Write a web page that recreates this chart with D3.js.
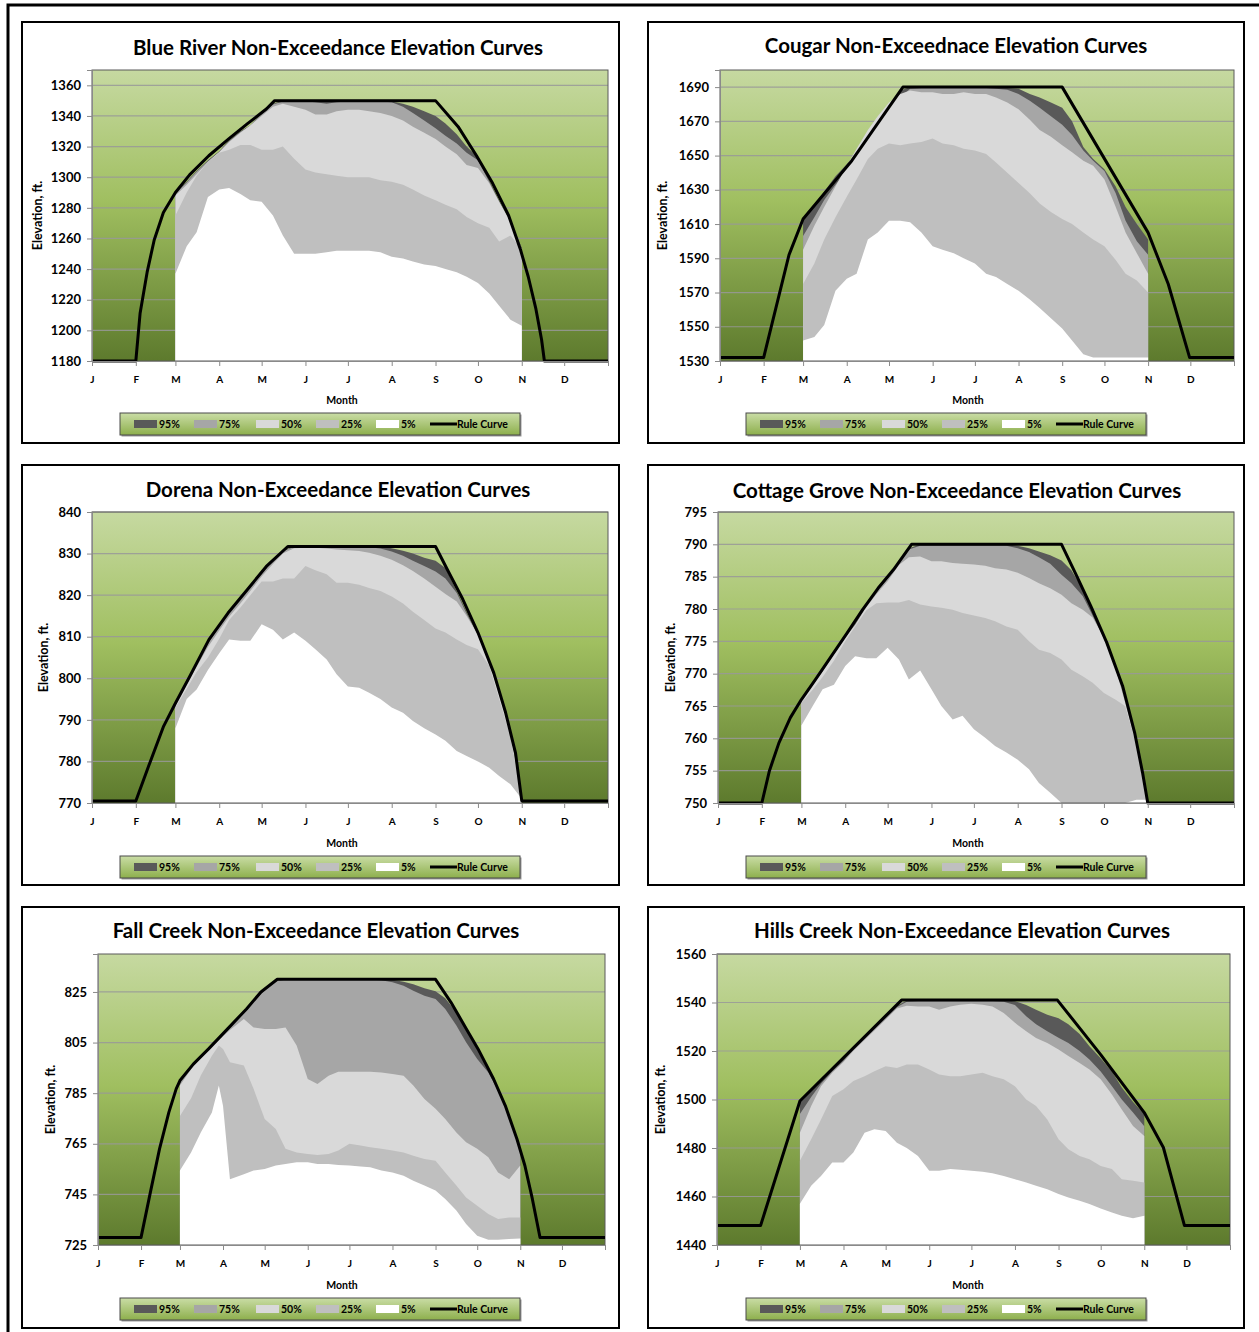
<!DOCTYPE html>
<html>
<head>
<meta charset="utf-8">
<script src="https://cdn.jsdelivr.net/npm/d3@7"></script>
<style>
  body { margin: 0; background: #fff; }
  svg { display: block; }
  text { font-family: Lato, "Open Sans", sans-serif; font-weight: bold; fill: #000; }
</style>
</head>
<body>
<svg id="chart" width="1259" height="1332"></svg>
<script>
// ---- data ----
const monthLabels = ["J", "F", "M", "A", "M", "J", "J", "A", "S", "O", "N", "D"];
const monthStarts = [0, 31, 59, 90, 120, 151, 181, 212, 243, 273, 304, 334];
const seriesNames = ["95%", "75%", "50%", "25%", "5%"];

// day of year for the percentile curves (Mar 1 .. Nov 1, quarter months)
const gridDays = [59, 67, 74, 82, 90, 97, 105, 112, 120, 128, 135, 143, 151, 158, 166, 173,
  181, 189, 196, 204, 212, 220, 227, 235, 243, 250, 258, 265, 273, 281, 288, 296, 304];
const fallCreekDays = [59, 67, 74, 82, 87, 90, 95, 105, 112, 120, 128, 135, 143, 151, 158, 166, 173,
  181, 189, 196, 204, 212, 220, 227, 235, 243, 250, 258, 265, 273, 281, 288, 296, 304];

// Blue River
const blueRiverP95 = [1290, 1297, 1304, 1311, 1317, 1324, 1330, 1334, 1342, 1348, 1350, 1350, 1350, 1350, 1350, 1350, 1350, 1350, 1350, 1350, 1349.5, 1348, 1346, 1343, 1340, 1335, 1328, 1320, 1313, 1298, 1285, 1271, 1254];
const blueRiverP75 = [1289.5, 1296.5, 1303.5, 1310.5, 1316.5, 1323.5, 1329.5, 1333.5, 1341.5, 1347.5, 1349.5, 1349.5, 1349.5, 1349, 1348, 1349, 1349.5, 1349.5, 1349.5, 1349.5, 1349, 1346, 1342, 1337, 1332, 1327, 1322, 1316, 1311, 1297, 1284, 1270, 1253];
const blueRiverP50 = [1288, 1295, 1302, 1310, 1316.5, 1323, 1329, 1334, 1340, 1346, 1348, 1346, 1344, 1341, 1341, 1343, 1344, 1344, 1343, 1342, 1340, 1337, 1333, 1329, 1325, 1320, 1315, 1308, 1306, 1296, 1284, 1271, 1253];
const blueRiverP25 = [1275, 1290, 1301, 1310, 1316, 1318, 1321, 1321, 1318, 1318, 1320, 1312, 1305, 1303, 1302, 1301, 1300, 1300, 1300, 1298, 1297, 1295, 1292, 1288, 1285, 1282, 1279, 1274, 1270, 1267, 1258, 1262, 1253];
const blueRiverP5 = [1237, 1255, 1264, 1287, 1292, 1293, 1289, 1285, 1284, 1275, 1262, 1250, 1250, 1250, 1251, 1252, 1252, 1252, 1252, 1251, 1248, 1247, 1245, 1243, 1242, 1240, 1238, 1235, 1231, 1224, 1216, 1207, 1203];
const blueRiverRuleDays = [0, 31, 34, 39, 44, 50.5, 59, 69, 82.6, 96.7, 110, 123.3, 129.2, 243, 259, 272, 283.4, 294.7, 303, 308.6, 314, 318, 320, 365];
const blueRiverRuleVals = [1180, 1180, 1211, 1238, 1259, 1277, 1290, 1301.5, 1314, 1325, 1335, 1344.5, 1350, 1350, 1333, 1314, 1296, 1275, 1253, 1235, 1214, 1194, 1180, 1180];

// Cougar
const cougarP95 = [1613, 1621, 1629, 1638, 1645, 1652, 1661, 1670, 1679, 1688, 1690, 1690, 1690, 1690, 1690, 1690, 1690, 1690, 1690, 1689.5, 1689, 1686, 1684, 1681, 1678, 1670, 1655, 1648, 1642, 1632, 1620, 1610, 1601];
const cougarP75 = [1603, 1614, 1624, 1633, 1641, 1649, 1657, 1665, 1674, 1684, 1689, 1689.5, 1689.5, 1689.5, 1689.5, 1689.5, 1689.5, 1689.5, 1689, 1688.5, 1686, 1682, 1678, 1673, 1668, 1662, 1653, 1647, 1641, 1628, 1612, 1600, 1592];
const cougarP50 = [1595, 1609, 1620, 1632, 1644, 1654, 1665, 1673, 1681, 1686, 1688, 1687, 1687, 1686, 1686, 1687, 1686, 1686, 1684, 1681, 1677, 1671, 1665, 1661, 1656, 1652, 1647, 1644, 1636, 1620, 1605, 1593, 1581];
const cougarP25 = [1575, 1587, 1601, 1614, 1626, 1636, 1648, 1654, 1657, 1656, 1657, 1658, 1660, 1657, 1656, 1654, 1653, 1651, 1646, 1640, 1634, 1628, 1622, 1617, 1613, 1610, 1605, 1601, 1597, 1589, 1581, 1577, 1570];
const cougarP5 = [1542, 1544, 1551, 1571, 1578, 1581, 1601, 1605, 1612, 1612, 1611, 1605, 1597, 1595, 1593, 1590, 1587, 1581, 1579, 1575, 1571, 1566, 1561, 1555, 1549, 1542, 1534, 1532, 1532, 1532, 1532, 1532, 1532];
const cougarRuleDays = [0, 31, 49, 59, 93.6, 129.9, 243, 304, 318.3, 333.5, 365];
const cougarRuleVals = [1532, 1532, 1592, 1613, 1647, 1690, 1690, 1605, 1575, 1532, 1532];

// Dorena
const dorenaP95 = [794, 799.2, 803.6, 808.5, 812.8, 816, 819.3, 822.2, 825.5, 828.3, 830.8, 831.7, 831.7, 831.7, 831.7, 831.7, 831.7, 831.7, 831.7, 831.7, 831.3, 830.7, 830, 829, 828.3, 826.5, 821, 816, 810.5, 803.5, 796.5, 787, 771];
const dorenaP75 = [793.8, 799, 803.4, 808.3, 812.6, 815.8, 819.1, 822, 825.3, 828.1, 830.6, 831.6, 831.6, 831.6, 831.6, 831.6, 831.6, 831.6, 831.5, 831.2, 830.5, 829.5, 828.3, 827, 825.7, 824, 820.5, 815.5, 810.5, 803.5, 796.5, 787, 771];
const dorenaP50 = [793.5, 798.5, 802.8, 807.5, 811.5, 814.8, 818, 821, 824.5, 827.5, 830, 831.3, 831.4, 831.4, 831.2, 831, 830.8, 830.6, 830.2, 829.5, 828.5, 827.2, 825.8, 824, 822, 820.3, 818.5, 815, 810.5, 803.5, 796.5, 787, 771];
const dorenaP25 = [793, 797.5, 801.5, 805, 809.5, 814, 817, 820, 823.3, 823.3, 824, 824, 827, 826, 825, 823, 823, 822.5, 821.7, 821, 819.7, 818, 816, 814, 812, 811, 809.3, 808, 807, 803, 795, 786, 771];
const dorenaP5 = [788, 795, 797.3, 802, 806, 809.3, 809, 809, 813, 811.7, 809.3, 811, 809, 807, 804.5, 801, 798, 797.7, 796.5, 795, 793, 791.7, 789.7, 788, 786.5, 785, 782.5, 781.3, 780, 778.5, 776.5, 774.5, 771];
const dorenaRuleDays = [0, 31, 40.2, 50.7, 59, 69.2, 82.7, 96.2, 109.8, 123.3, 138.5, 243, 251.6, 262.3, 273, 284.2, 292.6, 299.6, 304, 365];
const dorenaRuleVals = [770.5, 770.5, 779, 788.5, 794, 800.5, 809.3, 815.7, 821.3, 826.9, 831.7, 831.7, 826, 819, 811, 801.3, 791.7, 782, 770.5, 770.5];

// Cottage Grove
const cottageP95 = [766, 768.5, 770.6, 773.3, 775.9, 777.8, 780.7, 782.9, 784.9, 787.2, 789.4, 790, 790, 790, 790, 790, 790, 790, 790, 790, 789.8, 789.4, 788.9, 788.3, 787.5, 786, 783, 779.5, 775.5, 771, 766.3, 759.5, 750];
const cottageP75 = [765.8, 768.3, 770.4, 773.1, 775.7, 777.6, 780.5, 782.7, 784.7, 787, 789.2, 789.8, 789.8, 789.8, 789.8, 789.8, 789.8, 789.8, 789.8, 789.8, 789.4, 788.8, 788, 787, 785.3, 784, 782, 779, 775.5, 771, 766.3, 759.5, 750];
const cottageP50 = [765.8, 768.2, 770.3, 773, 775.6, 777.5, 780.3, 782.3, 784.3, 786.8, 788, 788.1, 787.4, 787.4, 787.1, 787, 786.9, 786.7, 786.3, 786.1, 785.6, 784.8, 784, 783.2, 782.2, 780.9, 779.9, 778.7, 775.5, 771, 765.5, 759, 750];
const cottageP25 = [765.5, 767.5, 769.5, 772, 775, 777.3, 779.8, 780.9, 781, 781, 781.4, 780.7, 780.4, 780.2, 779.9, 779.4, 779, 778.6, 778.1, 777.3, 776.8, 775, 773.7, 773.2, 772.2, 770.6, 769.6, 768.6, 767, 766, 765, 759, 750];
const cottageP5 = [762, 765, 767.6, 768.3, 771.2, 772.7, 772.4, 772.4, 774, 772.2, 769.1, 770.5, 767.6, 765, 762.9, 763.5, 761.4, 760.1, 758.8, 757.8, 756.7, 755.2, 753.1, 751.6, 750, 750, 750, 750, 750, 750, 750, 750.5, 750.5];
const cottageRuleDays = [0, 31, 36.4, 43.1, 51.2, 59, 69, 80.2, 91.4, 102.3, 113.2, 124.2, 136.9, 243, 252.7, 263.8, 275, 286.2, 294.7, 300.3, 304, 365];
const cottageRuleVals = [750, 750, 755, 759.3, 763.2, 766, 769.1, 772.7, 776.3, 779.9, 783.2, 786.1, 790, 790, 785.6, 780.4, 774.8, 768.1, 760.9, 754.7, 750, 750];

// Fall Creek
const fallCreekP95 = [790, 795.3, 799.3, 803.7, 806.6, 808.3, 811, 817, 821.4, 826, 829.5, 830, 830, 830, 830, 830, 830, 830, 830, 830, 830, 829.8, 829, 828, 826.5, 825.3, 822.5, 817, 810, 802.5, 794.8, 786, 775.5, 763];
const fallCreekP75 = [789.7, 795, 799, 803.4, 806.3, 808, 810.7, 816.7, 821.1, 825.7, 829.2, 829.8, 829.8, 829.8, 829.8, 829.8, 829.8, 829.8, 829.8, 829.8, 829.6, 828.8, 827.5, 825.5, 823.5, 822.2, 818.3, 811.7, 805.1, 798.5, 793.2, 786, 775.5, 762.5];
const fallCreekP50 = [788, 794.5, 799, 803.5, 806, 807.5, 810, 814.3, 811, 810.4, 810.4, 811, 803.8, 790.6, 788.6, 791.9, 793.5, 793.5, 793.5, 793.5, 793.2, 792.6, 791.9, 788, 782.7, 778.8, 774.8, 769.5, 765.6, 763, 759.7, 753.7, 751, 756.4];
const fallCreekP25 = [776, 783, 792, 799.8, 803.8, 802.5, 797.2, 795.9, 786.7, 774.8, 770.8, 763, 761.6, 761, 760.6, 761, 762.3, 765, 764.3, 763.6, 763, 762.3, 761.6, 760.3, 759, 758.3, 753.7, 748.5, 743.8, 740.5, 737.3, 735.3, 735.9, 735.9];
const fallCreekP5 = [754.4, 761.6, 769.5, 777.4, 788, 780, 751, 753, 754.4, 755, 756.4, 757, 757.7, 757.7, 757, 757, 756.6, 756.4, 756, 755.7, 754.4, 753.7, 752.4, 750.4, 748.5, 746.5, 743.2, 738.6, 733.3, 728.7, 727.1, 727.1, 727.4, 727.6];
const fallCreekRuleDays = [0, 31, 37.7, 44.3, 51, 56.3, 59, 68.6, 79.6, 93.3, 106.9, 117.3, 129.1, 243, 254.1, 265.2, 273.6, 284.8, 293.2, 301.6, 307.3, 312.7, 318.2, 365];
const fallCreekRuleVals = [728, 728, 745.8, 763, 777.4, 786.7, 790, 796.5, 802.5, 810.4, 818.3, 825, 830, 830, 820.9, 810.4, 802.5, 790.6, 780.1, 766.9, 756.4, 743.2, 728, 728];

// Hills Creek
const hillsCreekP95 = [1499, 1503.6, 1507.7, 1512.3, 1516.9, 1520.9, 1525.5, 1529.6, 1534.2, 1538.8, 1540.7, 1540.8, 1540.8, 1540.8, 1540.8, 1540.8, 1540.8, 1540.8, 1540.8, 1540.8, 1540.5, 1539, 1537, 1535, 1533.5, 1531, 1527, 1522, 1517, 1511.5, 1505, 1499, 1494];
const hillsCreekP75 = [1494, 1501, 1506.5, 1511.5, 1516, 1520.5, 1525, 1529, 1533.5, 1538, 1540.3, 1540.5, 1540.5, 1540.5, 1540.5, 1540.5, 1540.5, 1540.5, 1540.5, 1540.3, 1539, 1534.3, 1531, 1528.1, 1525.5, 1523.3, 1520, 1516.5, 1511.5, 1505.5, 1500, 1494.6, 1489];
const hillsCreekP50 = [1486.3, 1497.3, 1505.5, 1511, 1515.5, 1520, 1524.5, 1528.5, 1533, 1537.5, 1538.7, 1538.4, 1538.4, 1537, 1538.4, 1539.1, 1539.5, 1539.1, 1538.4, 1535.7, 1531.6, 1528.1, 1525.4, 1523.3, 1520.6, 1517.9, 1515.1, 1512.4, 1508.3, 1502.1, 1495.9, 1489.1, 1485];
const hillsCreekP25 = [1474.7, 1483.6, 1491.8, 1501.4, 1504.2, 1507.6, 1509.6, 1511.7, 1513.7, 1513, 1514.4, 1514.4, 1512.4, 1510.3, 1509.6, 1509.6, 1510.3, 1511, 1509.6, 1508.3, 1505.5, 1500, 1497.3, 1491.8, 1483.6, 1479.5, 1476.7, 1475.4, 1472.6, 1471.3, 1467.1, 1466.5, 1465.8];
const hillsCreekP5 = [1457, 1464.4, 1468.5, 1474, 1474, 1478.1, 1486.3, 1487.7, 1487, 1482.2, 1480, 1476.7, 1470.6, 1470.6, 1471.3, 1471, 1470.6, 1470.2, 1469.6, 1468.5, 1467.1, 1465.8, 1464.4, 1463, 1461, 1459.6, 1458.2, 1456.9, 1455.1, 1453.4, 1452.1, 1451, 1452.1];
const hillsCreekRuleDays = [0, 31, 59, 131.3, 242.2, 273, 304, 317.6, 332.6, 365];
const hillsCreekRuleVals = [1448, 1448, 1499.4, 1541, 1541, 1518.5, 1494.6, 1480.2, 1448, 1448];

// ---- layout ----
const bandColors = ["#595959", "#a6a6a6", "#d9d9d9", "#bfbfbf", "#ffffff"];

const panels = [
  { title: "Blue River Non-Exceedance Elevation Curves", days: gridDays,
    series: [blueRiverP95, blueRiverP75, blueRiverP50, blueRiverP25, blueRiverP5],
    ruleDays: blueRiverRuleDays, ruleVals: blueRiverRuleVals,
    domain: [1180, 1370], tickStart: 1180, tickStep: 20,
    box: [22, 22, 597, 421], plot: [92, 70, 516, 291], titleX: 338, titleY: 48, yTitleX: 38 },
  { title: "Cougar Non-Exceednace Elevation Curves", days: gridDays,
    series: [cougarP95, cougarP75, cougarP50, cougarP25, cougarP5],
    ruleDays: cougarRuleDays, ruleVals: cougarRuleVals,
    domain: [1530, 1700], tickStart: 1530, tickStep: 20,
    box: [648, 22, 596, 421], plot: [720, 70, 514, 291], titleX: 956, titleY: 46, yTitleX: 663 },
  { title: "Dorena Non-Exceedance Elevation Curves", days: gridDays,
    series: [dorenaP95, dorenaP75, dorenaP50, dorenaP25, dorenaP5],
    ruleDays: dorenaRuleDays, ruleVals: dorenaRuleVals,
    domain: [770, 840], tickStart: 770, tickStep: 10,
    box: [22, 465, 597, 420], plot: [92, 512, 516, 291], titleX: 338, titleY: 490, yTitleX: 44 },
  { title: "Cottage Grove Non-Exceedance Elevation Curves", days: gridDays,
    series: [cottageP95, cottageP75, cottageP50, cottageP25, cottageP5],
    ruleDays: cottageRuleDays, ruleVals: cottageRuleVals,
    domain: [750, 795], tickStart: 750, tickStep: 5,
    box: [648, 465, 596, 420], plot: [718, 512, 516, 291], titleX: 957, titleY: 491, yTitleX: 671 },
  { title: "Fall Creek Non-Exceedance Elevation Curves", days: fallCreekDays,
    series: [fallCreekP95, fallCreekP75, fallCreekP50, fallCreekP25, fallCreekP5],
    ruleDays: fallCreekRuleDays, ruleVals: fallCreekRuleVals,
    domain: [725, 840], tickStart: 725, tickStep: 20,
    box: [22, 907, 597, 421], plot: [98, 954, 507, 291], titleX: 316, titleY: 931, yTitleX: 51 },
  { title: "Hills Creek Non-Exceedance Elevation Curves", days: gridDays,
    series: [hillsCreekP95, hillsCreekP75, hillsCreekP50, hillsCreekP25, hillsCreekP5],
    ruleDays: hillsCreekRuleDays, ruleVals: hillsCreekRuleVals,
    domain: [1440, 1560], tickStart: 1440, tickStep: 20,
    box: [648, 907, 596, 421], plot: [717, 954, 513, 291], titleX: 962, titleY: 931, yTitleX: 661 }
];

const svg = d3.select("#chart");
const defs = svg.append("defs");

function vGradient(id, stops) {
  const grad = defs.append("linearGradient").attr("id", id)
    .attr("x1", 0).attr("y1", 0).attr("x2", 0).attr("y2", 1);
  stops.forEach(s => grad.append("stop").attr("offset", s[0]).attr("stop-color", s[1]));
}
vGradient("plotFill", [[0, "#c6d9a1"], [0.45, "#a0bf60"], [1, "#5d7a2d"]]);
vGradient("legendFill", [[0, "#cadda6"], [1, "#8daf4c"]]);

// outer frame (top and left only visible)
svg.append("path").attr("d", "M8,1332V5H1259")
  .attr("fill", "none").attr("stroke", "#000").attr("stroke-width", 3);

const axisColor = "#8a8a8a";

panels.forEach((p, k) => {
  const g = svg.append("g");
  const [bx, by, bw, bh] = p.box;
  const [px, py, pw, ph] = p.plot;

  g.append("rect").attr("x", bx).attr("y", by).attr("width", bw).attr("height", bh)
    .attr("fill", "#fff").attr("stroke", "#000").attr("stroke-width", 2);

  g.append("text").attr("x", p.titleX).attr("y", p.titleY).attr("dy", "0.35em")
    .attr("text-anchor", "middle").attr("font-size", 20.5).text(p.title);

  const x = d3.scaleLinear().domain([0, 365]).range([px, px + pw]);
  const y = d3.scaleLinear().domain(p.domain).range([py + ph, py]);
  const ticks = d3.range(p.tickStart, p.domain[1] + 0.001, p.tickStep);

  g.append("rect").attr("x", px).attr("y", py).attr("width", pw).attr("height", ph)
    .attr("fill", "url(#plotFill)");

  g.append("g").selectAll("line").data(ticks.filter(t => t > p.domain[0]))
    .join("line")
    .attr("x1", px).attr("x2", px + pw)
    .attr("y1", d => y(d)).attr("y2", d => y(d))
    .attr("stroke", "#999").attr("stroke-width", 1.2).attr("opacity", 0.85);

  const clipId = "clip" + k;
  defs.append("clipPath").attr("id", clipId).append("rect")
    .attr("x", px).attr("y", py).attr("width", pw).attr("height", ph);

  const bands = g.append("g").attr("clip-path", `url(#${clipId})`);
  p.series.forEach((vals, i) => {
    const area = d3.area()
      .x((d, j) => x(p.days[j]))
      .y0(y(p.domain[0]))
      .y1(d => y(d));
    bands.append("path").datum(vals).attr("d", area)
      .attr("fill", bandColors[i]).attr("stroke", "none");
  });

  g.append("rect").attr("x", px).attr("y", py).attr("width", pw).attr("height", ph)
    .attr("fill", "none").attr("stroke", "#5a5a5a").attr("stroke-width", 1);

  const rule = p.ruleDays.map((d, i) => [d, p.ruleVals[i]]);
  g.append("path").datum(rule)
    .attr("d", d3.line().x(d => x(d[0])).y(d => y(d[1])))
    .attr("fill", "none").attr("stroke", "#000").attr("stroke-width", 3)
    .attr("stroke-linejoin", "round");

  // axes
  const yAxis = d3.axisLeft(y).tickValues(ticks).tickSize(5).tickPadding(6).tickFormat(d3.format("d"));
  const ya = g.append("g").attr("transform", `translate(${px},0)`).call(yAxis);
  ya.select(".domain").attr("stroke", axisColor);
  ya.selectAll(".tick line").attr("stroke", axisColor);
  ya.selectAll(".tick text").attr("font-size", 13).attr("font-family", "Lato, sans-serif")
    .attr("font-weight", "bold").attr("fill", "#000");

  const xAxis = d3.axisBottom(x).tickValues(monthStarts.concat([365])).tickSize(5).tickPadding(10)
    .tickFormat((d, i) => monthLabels[i] || "");
  const xa = g.append("g").attr("transform", `translate(0,${py + ph})`).call(xAxis);
  xa.select(".domain").attr("stroke", axisColor);
  xa.selectAll(".tick line").attr("stroke", axisColor);
  xa.selectAll(".tick text").attr("font-size", 10).attr("font-family", "Lato, sans-serif")
    .attr("font-weight", "bold").attr("fill", "#000");

  g.append("text").attr("x", bx + 320).attr("y", by + 378).attr("dy", "0.35em")
    .attr("text-anchor", "middle").attr("font-size", 10.5).text("Month");

  g.append("text").attr("transform", `translate(${p.yTitleX},${py + ph / 2}) rotate(-90)`)
    .attr("dy", "0.35em").attr("text-anchor", "middle").attr("font-size", 12.5).text("Elevation, ft.");

  // legend
  const lx = bx + 98, ly = by + 391;
  const lg = g.append("g").attr("transform", `translate(${lx},${ly})`);
  lg.append("rect").attr("x", 1.5).attr("y", 1.5).attr("width", 400).attr("height", 22).attr("fill", "#9a9a9a");
  lg.append("rect").attr("width", 400).attr("height", 22)
    .attr("fill", "url(#legendFill)").attr("stroke", "#4a4a4a").attr("stroke-width", 1);
  const swatchX = [14, 74, 136, 196, 256];
  seriesNames.forEach((n, i) => {
    lg.append("rect").attr("x", swatchX[i]).attr("y", 7).attr("width", 23).attr("height", 8)
      .attr("fill", bandColors[i]);
    lg.append("text").attr("x", swatchX[i] + 25).attr("y", 11).attr("dy", "0.35em")
      .attr("font-size", 10.5).text(n);
  });
  lg.append("line").attr("x1", 310).attr("x2", 337).attr("y1", 11).attr("y2", 11)
    .attr("stroke", "#000").attr("stroke-width", 3);
  lg.append("text").attr("x", 337).attr("y", 11).attr("dy", "0.35em")
    .attr("font-size", 10.5).text("Rule Curve");
});
</script>
</body>
</html>
